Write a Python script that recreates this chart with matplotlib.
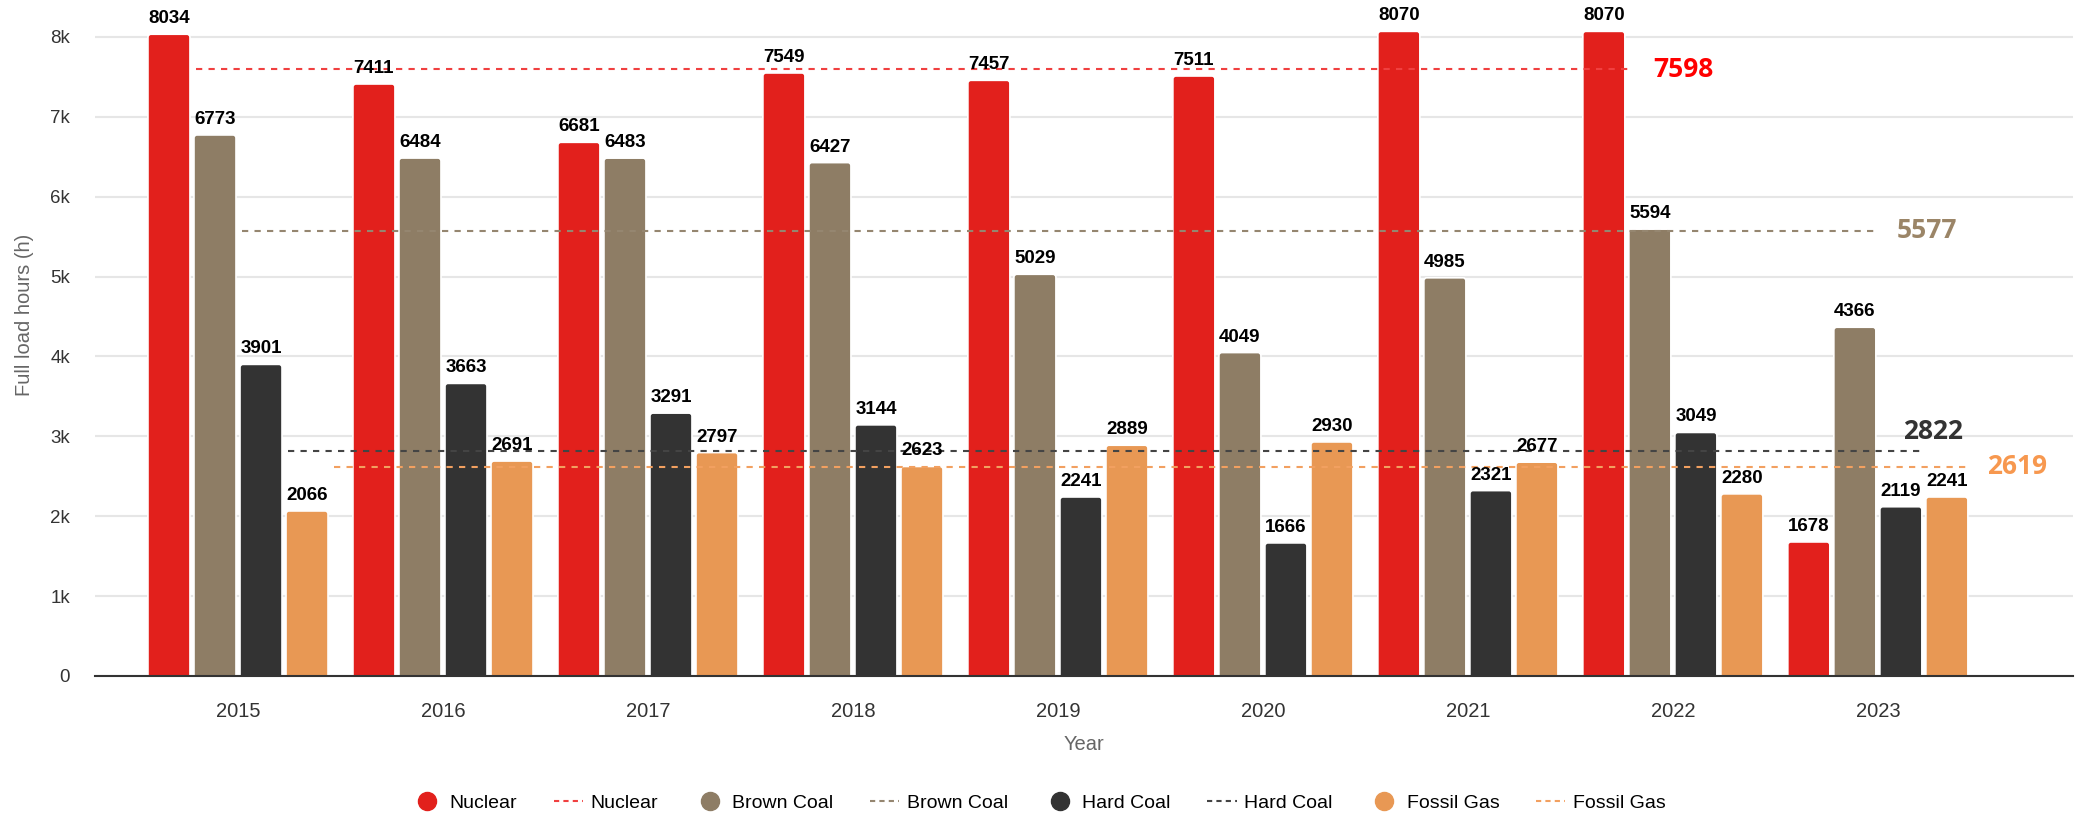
import matplotlib.pyplot as plt
from matplotlib.lines import Line2D
from matplotlib.patches import FancyBboxPatch

years = ["2015", "2016", "2017", "2018", "2019", "2020", "2021", "2022", "2023"]
nuclear = [8034, 7411, 6681, 7549, 7457, 7511, 8070, 8070, 1678]
brown_coal = [6773, 6484, 6483, 6427, 5029, 4049, 4985, 5594, 4366]
hard_coal = [3901, 3663, 3291, 3144, 2241, 1666, 2321, 3049, 2119]
fossil_gas = [2066, 2691, 2797, 2623, 2889, 2930, 2677, 2280, 2241]
names = ["Nuclear", "Brown Coal", "Hard Coal", "Fossil Gas"]
averages = [7598, 5577, 2822, 2619]
# index of the last year the average line reaches
avg_end = [7, 8, 8, 8]

series = [nuclear, brown_coal, hard_coal, fossil_gas]
bar_colors = ["#e2201c", "#8e7d65", "#333333", "#e89854"]
line_colors = ["#f04040", "#958670", "#444444", "#f2a060"]
label_colors = ["#ff0000", "#9b8567", "#333333", "#f7984f"]
# pixel offsets of the average labels from the end of the line
label_off = [(25, 0), (18, 0), (-22, 19), (16, 0)]

W, H = 2078, 815
fig = plt.figure(figsize=(W / 100, H / 100), dpi=100)
ax = fig.add_axes([95 / W, 139 / H, 1978 / W, 671 / H])
ax.set_xlim(-0.6976, 8.952)
ax.set_ylim(0, 8400)

# data units per pixel, used for the rounded bar tops
xpp = (8.952 + 0.6976) / 1978
ypp = 8400 / 671

bw = 0.205
step = 0.2245
for k, vals in enumerate(series):
    xs = [i + (k - 1.5) * step for i in range(len(years))]
    for x, v in zip(xs, vals):
        # start below zero so only the top corners show rounded
        p = FancyBboxPatch((x - bw / 2, -10 * ypp), bw, v + 10 * ypp,
                           boxstyle="round,pad=0,rounding_size=%f" % (3 * xpp),
                           mutation_aspect=ypp / xpp, facecolor=bar_colors[k],
                           edgecolor="white", linewidth=1.2, zorder=2)
        ax.add_patch(p)
        ax.annotate(str(v), (x, v), xytext=(0, 7), textcoords="offset pixels",
                    ha="center", va="bottom", fontsize=13.5, fontweight="bold",
                    family="Liberation Sans", color="black", zorder=5)
    x0 = 0 + (k - 1.5) * step + bw / 2 + 0.03
    x1 = avg_end[k] + (k - 1.5) * step + bw / 2 + 0.015
    ax.plot([x0, x1], [averages[k], averages[k]], linestyle=(0, (3, 3)), lw=1.5,
            color=line_colors[k], zorder=4)
    dx, dy = label_off[k]
    ax.annotate(str(averages[k]), (x1, averages[k]), xytext=(dx, dy), textcoords="offset pixels",
                ha="left", va="center", fontsize=19, fontweight="bold",
                family="Open Sans", color=label_colors[k], zorder=5)

ax.set_xticks(range(len(years)))
ax.set_xticklabels(years, fontsize=14.5, color="#333333", family="Liberation Sans")
ax.set_yticks(range(0, 9000, 1000))
ax.set_yticklabels(["0"] + ["%dk" % i for i in range(1, 9)], fontsize=13.5,
                   color="#333333", family="Liberation Sans")
ax.tick_params(axis="y", length=0, pad=18)
ax.tick_params(axis="x", length=0, pad=19)
ax.grid(axis="y", color="#e6e6e6", linewidth=1.5, zorder=0)
ax.set_axisbelow(True)
for s in ["left", "right", "top"]:
    ax.spines[s].set_visible(False)
ax.spines["bottom"].set_color("#333333")
ax.spines["bottom"].set_linewidth(1.5)
ax.spines["bottom"].set_zorder(6)

ax.set_ylabel("Full load hours (h)", fontsize=14.5, color="#666666", family="Liberation Sans")
ax.yaxis.set_label_coords(-0.031, 0.538)
ax.set_xlabel("Year", fontsize=14.5, color="#666666", family="Liberation Sans")
ax.xaxis.set_label_coords(0.5, -0.088)

handles = []
for k in range(4):
    handles.append(Line2D([], [], marker="o", linestyle="none", markersize=13,
                          color=bar_colors[k], label=names[k]))
    handles.append(Line2D([], [], linestyle=(0, (2.5, 2)), lw=1.5,
                          color=line_colors[k], label=names[k]))
fig.legend(handles=handles, loc="center", bbox_to_anchor=(1039 / W, 1 - 803 / H), ncol=8,
           frameon=False, prop={"family": "Liberation Sans", "size": 14},
           handlelength=1.5, handletextpad=0.4, columnspacing=1.9)

fig.savefig("out.png", dpi=100)
